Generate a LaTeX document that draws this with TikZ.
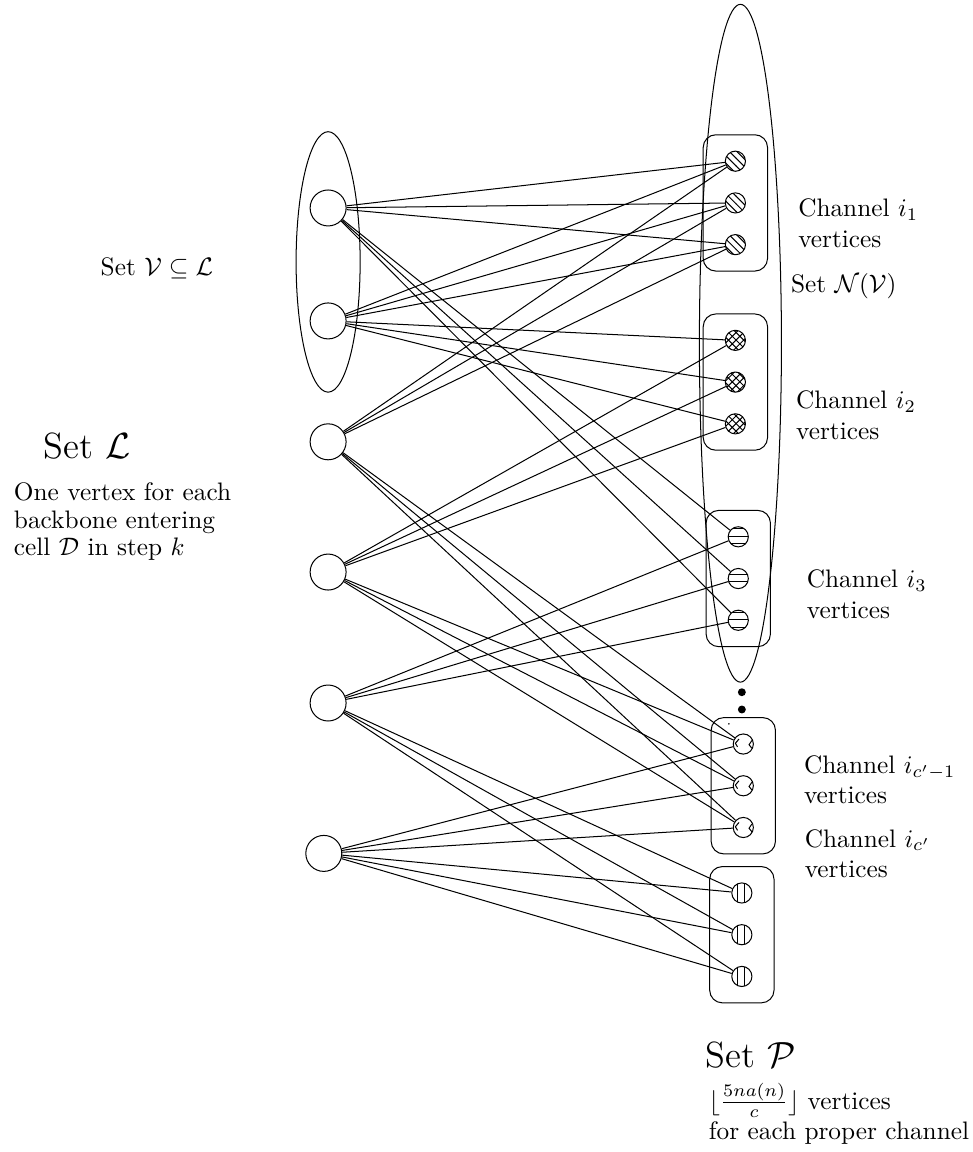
\documentclass[tikz,border=0pt]{standalone}
\usepackage{amsmath}
\usepackage{amssymb}
\usetikzlibrary{positioning, patterns, fit, shapes.geometric}

\begin{document}
\begin{tikzpicture}[-, node distance=0.58cm,
	lvert/.style={circle, draw, minimum size=0.5cm, inner sep=0pt},
	pvert/.style={circle, draw, minimum size=0.28cm, inner sep=0pt},
	chan/.style={draw, rounded corners=5pt, inner xsep=0.3cm, inner ysep=0.22cm},
	lbl/.style={anchor=west, align=left},
	zig/.style={path picture={
		\draw ([shift={(0.12,0.05)}]path picture bounding box.center) -- ++(-0.04,-0.06) -- ++(0.04,-0.05);
		\draw ([shift={(-0.06,0.07)}]path picture bounding box.center) -- ++(-0.05,-0.06) -- ++(0.03,-0.05);}}]
	\useasboundingbox (0,0) rectangle (13.51,-16.01);
	
	% set L
	\node[lvert] (L1) at (4.56,-2.89) {};
	\node[lvert] (L2) at (4.56,-4.46) {};
	\node[lvert] (L3) at (4.56,-6.14) {};
	\node[lvert] (L4) at (4.56,-7.95) {};
	\node[lvert] (L5) at (4.56,-9.77) {};
	\node[lvert] (L6) at (4.50,-11.86) {};
	
	% set P
	\node[pvert, pattern=north west lines] (A1) at (10.22,-2.24) {};
	\node[pvert, pattern=north west lines, below of = A1] (A2) {};
	\node[pvert, pattern=north west lines, below of = A2] (A3) {};
	\node[pvert, pattern=crosshatch] (B1) at (10.22,-4.73) {};
	\node[pvert, pattern=crosshatch, below of = B1] (B2) {};
	\node[pvert, pattern=crosshatch, below of = B2] (B3) {};
	\node[pvert, pattern=horizontal lines] (C1) at (10.26,-7.46) {};
	\node[pvert, pattern=horizontal lines, below of = C1] (C2) {};
	\node[pvert, pattern=horizontal lines, below of = C2] (C3) {};
	\node[pvert, zig] (D1) at (10.33,-10.34) {};
	\node[pvert, zig, below of = D1] (D2) {};
	\node[pvert, zig, below of = D2] (D3) {};
	\node[pvert, pattern=vertical lines] (E1) at (10.31,-12.41) {};
	\node[pvert, pattern=vertical lines, below of = E1] (E2) {};
	\node[pvert, pattern=vertical lines, below of = E2] (E3) {};
	
	\node[chan, fit=(A1)(A3)] (boxA) {};
	\node[chan, fit=(B1)(B3)] (boxB) {};
	\node[chan, fit=(C1)(C3)] (boxC) {};
	\node[chan, fit=(D1)(D3)] (boxD) {};
	\node[chan, fit=(E1)(E3)] (boxE) {};
	
	\node[draw, ellipse, minimum width=0.89cm, minimum height=3.62cm, inner sep=0pt] (ringV) at (4.56,-3.64) {};
	\node[draw, ellipse, minimum width=1.14cm, minimum height=9.42cm, inner sep=0pt] (ringN) at (10.29,-4.77) {};
	
	\fill (10.31,-9.62) circle (0.055);
	\fill (10.31,-9.86) circle (0.055);
	\fill (10.13,-10.06) circle (0.012);
	
	% edges
	\draw (L1) edge (A1) edge (A2) edge (A3) edge (C1) edge (C2) edge (C3);
	\draw (L2) edge (A1) edge (A2) edge (A3) edge (B1) edge (B2) edge (B3);
	\draw (L3) edge (A1) edge (A2) edge (A3) edge (D1) edge (D2) edge (D3);
	\draw (L4) edge (B1) edge (B2) edge (B3) edge (D1) edge (D2) edge (D3);
	\draw (L5) edge (C1) edge (C2) edge (C3) edge (E1) edge (E2) edge (E3);
	\draw (L6) edge (D1) edge (D2) edge (D3) edge (E1) edge (E2) edge (E3);
	
	% labels
	\node (txtV) at (2.18,-3.73) {Set $\mathcal{V} \subseteq \mathcal{L}$};
	\node[font=\Large] (txtL) at (1.21,-6.20) {Set $\mathcal{L}$};
	\node[lbl] (infoL) at (0.07,-7.25) {One vertex for each\\[-1pt]backbone entering\\[-1pt]cell $\mathcal{D}$ in step $k$};
	\node[lbl] (txt1) at (10.97,-3.10) {Channel $i_1$\\vertices};
	\node[lbl] (txtN) at (10.87,-3.98) {Set $\mathcal{N}(\mathcal{V})$};
	\node[lbl] (txt2) at (10.94,-5.77) {Channel $i_2$\\vertices};
	\node[lbl] (txt3) at (11.09,-8.26) {Channel $i_3$\\vertices};
	\node[lbl] (txt4) at (11.05,-10.84) {Channel $i_{c'-1}$\\vertices};
	\node[lbl] (txt5) at (11.06,-11.86) {Channel $i_{c'}$\\vertices};
	\node[font=\Large, inner sep=1pt] (txtP) at (10.43,-14.66) {Set $\mathcal{P}$};
	\node[lbl, inner sep=1pt] (infoP) at (9.81,-15.48) {$\lfloor\frac{5na(n)}{c}\rfloor$ vertices\\for each proper channel};
\end{tikzpicture}
\end{document}
